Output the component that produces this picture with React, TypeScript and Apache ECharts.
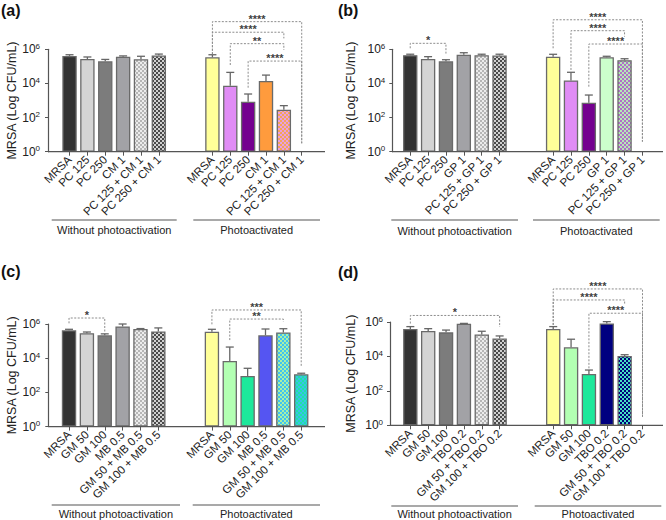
import React, { useEffect, useRef } from 'react';
import * as echarts from 'echarts';

const FONT = 'Arial, "Liberation Sans", Helvetica, sans-serif';

// ---- (a) PC / CM ----  (CFU/mL, mean and SD)
const labelsA = ['MRSA', 'PC 125', 'PC 250', 'CM 1', 'PC 125 + CM 1', 'PC 250 + CM 1'];
const darkA = [4.1e5, 2.7e5, 2.0e5, 3.7e5, 2.6e5, 4.3e5];
const darkSdA = [0.7e5, 0.85e5, 0.55e5, 0.4e5, 1.3e5, 0.95e5];
const lightA = [3.4e5, 7.4e3, 850, 1.38e4, 290, 0];
const lightSdA = [1.4e5, 3.7e4, 1550, 1.7e4, 210, 0];
// brackets: [from slot, to slot, bar height, left leg end, right leg end] in log10 CFU/mL
const bracketsA = [[8, 13, 7.62, 5.71, 0.49], [8, 12, 7.0, 5.71, 6.64], [9, 12, 6.33, 5.08, 5.96], [10, 13, 5.31, 3.75, 0.49]];
const starsA = ['****', '****', '**', '****'];

// ---- (b) PC / GP ----
const labelsB = ['MRSA', 'PC 125', 'PC 250', 'GP 1', 'PC 125 + GP 1', 'PC 250 + GP 1'];
const darkB = [4.5e5, 2.7e5, 2.0e5, 4.8e5, 4.5e5, 4.3e5];
const darkSdB = [0.65e5, 1.0e5, 0.45e5, 1.5e5, 0.65e5, 0.85e5];
const lightB = [3.7e5, 1.5e4, 740, 3.4e5, 2.3e5, 0];
const lightSdB = [1.4e5, 3.0e4, 1350, 0.5e5, 0.5e5, 0];
const bracketsB = [[0, 2, 6.35, 6.06, 5.75], [8, 13, 7.73, 6.06, 0.59], [9, 12, 7.09, 4.79, 6.74], [10, 13, 6.31, 3.81, 0.59]];
const starsB = ['*', '****', '****', '****'];

// ---- (c) GM / MB ----
const labelsC = ['MRSA', 'GM 50', 'GM 100', 'MB 0.5', 'GM 50 + MB 0.5', 'GM 100 + MB 0.5'];
const darkC = [4.3e5, 2.9e5, 2.2e5, 7.2e5, 5.1e5, 3.7e5];
const darkSdC = [0.6e5, 0.5e5, 0.45e5, 2.8e5, 0.3e5, 2.2e5];
const lightC = [3.5e5, 6.9e3, 910, 2.2e5, 3.2e5, 1150];
const lightSdC = [1.4e5, 3.8e4, 1660, 2.9e5, 2.1e5, 170];
const bracketsC = [[0, 2, 6.35, 6.04, 5.55], [8, 13, 6.82, 5.98, 3.54], [9, 12, 6.29, 5.06, 6.13]];
const starsC = ['*', '***', '**'];

// ---- (d) GM / TBO ----
const labelsD = ['MRSA', 'GM 50', 'GM 100', 'TBO 0.2', 'GM 50 + TBO 0.2', 'GM 100 + TBO 0.2'];
const darkD = [3.9e5, 3.0e5, 2.5e5, 7.9e5, 1.9e5, 1.1e5];
const darkSdD = [1.5e5, 1.1e5, 0.9e5, 0.4e5, 1.0e5, 0.45e5];
const lightD = [3.9e5, 3.4e4, 950, 8.3e5, 1.05e4, 0];
const lightSdD = [1.5e5, 6.6e4, 670, 2.2e5, 2.1e3, 0];
const bracketsD = [[0, 5, 6.38, 5.91, 5.71], [8, 13, 7.92, 5.83, 0.49], [8, 12, 7.28, 5.83, 7.05], [10, 13, 6.51, 3.31, 0.49]];
const starsD = ['*', '****', '****', '****'];

const groupNames = ['Without photoactivation', 'Photoactivated'];
const yTitle = 'MRSA (Log CFU/mL)';
const yMaxExp = 6;
const yStepExp = 2;

// fills: plain colour or [colourA, colourB] checkerboard
type Fill = string | [string, string];
const greyFills: Fill[] = ['#333333', '#d4d4d4', '#7c7c7c', '#a2a2a6', ['#ececec', '#b6b6b6'], ['#d0d0d0', '#4a4a4a']];
const lightFillsA: Fill[] = ['#ffff99', '#e08cf5', '#74008f', '#ff9b3d', ['#e8a0e2', '#f4a45a'], '#ffffff'];
const lightFillsB: Fill[] = ['#ffff99', '#e08cf5', '#74008f', '#ccffcc', ['#b6e9b6', '#b070c8'], '#ffffff'];
const lightFillsC: Fill[] = ['#ffff99', '#b3ffb3', '#1de89b', '#5555f2', ['#40c4f0', '#a8f2a8'], ['#1fe0a8', '#38c4e6']];
const lightFillsD: Fill[] = ['#ffff99', '#b3ffb3', '#1de89b', '#000080', ['#00007a', '#46e0c4'], '#ffffff'];

const SLOT = 17.86;
const layouts = [
  { letter: '(a)', lx: 1, ly: 2, axisX: 48, left: 60.6, top: 49.3, height: 102.4, end: 325, nameGap: 26, labelMargin: 8,
    underY: 220, textY: 230, w: [51.7, 176.7], p: [193.3, 320] },
  { letter: '(b)', lx: 338, ly: 2, axisX: 392.3, left: 401.3, top: 49.3, height: 102.4, end: 663, nameGap: 35, labelMargin: 7,
    underY: 220, textY: 230.5, w: [391.3, 518], p: [533, 659.7] },
  { letter: '(c)', lx: 1, ly: 263, axisX: 48.3, left: 60.1, top: 324, height: 102.6, end: 325, nameGap: 28, labelMargin: 8,
    underY: 505, textY: 513.5, w: [51.7, 180], p: [192.7, 320] },
  { letter: '(d)', lx: 338, ly: 264, axisX: 390, left: 401.4, top: 322, height: 103.3, end: 663, nameGap: 33, labelMargin: 7,
    underY: 506, textY: 514, w: [391.3, 518], p: [534.7, 661.3] },
];

const panels = [
  { labels: labelsA, dark: darkA, darkSd: darkSdA, light: lightA, lightSd: lightSdA, fills: lightFillsA, brackets: bracketsA, stars: starsA },
  { labels: labelsB, dark: darkB, darkSd: darkSdB, light: lightB, lightSd: lightSdB, fills: lightFillsB, brackets: bracketsB, stars: starsB },
  { labels: labelsC, dark: darkC, darkSd: darkSdC, light: lightC, lightSd: lightSdC, fills: lightFillsC, brackets: bracketsC, stars: starsC },
  { labels: labelsD, dark: darkD, darkSd: darkSdD, light: lightD, lightSd: lightSdD, fills: lightFillsD, brackets: bracketsD, stars: starsD },
];

function checker(a: string, b: string, cell = 2) {
  const c = document.createElement('canvas');
  c.width = cell * 2;
  c.height = cell * 2;
  const ctx = c.getContext('2d')!;
  ctx.fillStyle = a;
  ctx.fillRect(0, 0, cell * 2, cell * 2);
  ctx.fillStyle = b;
  ctx.fillRect(0, 0, cell, cell);
  ctx.fillRect(cell, cell, cell, cell);
  return { image: c.toDataURL(), repeat: 'repeat', imageWidth: cell * 2, imageHeight: cell * 2 };
}

function toColor(f: Fill): any {
  return typeof f === 'string' ? f : checker(f[0], f[1]);
}

function buildOption() {
  const grid: any[] = [];
  const xAxis: any[] = [];
  const yAxis: any[] = [];
  const series: any[] = [];
  const graphic: any[] = [];

  panels.forEach((pn, i) => {
    const L = layouts[i];
    const slotLabels = [...pn.labels, '', '', ...pn.labels];
    const slotKeys = slotLabels.map((_, k) => String(k));
    const means = [...pn.dark, null, null, ...pn.light];
    const sds = [...pn.darkSd, null, null, ...pn.lightSd];
    const fills: (Fill | null)[] = [...greyFills, null, null, ...pn.fills];

    grid.push({ left: L.left, top: L.top, width: SLOT * 14, height: L.height, containLabel: false, outerBoundsMode: 'none' });

    xAxis.push({
      type: 'category', gridIndex: i, data: slotKeys, boundaryGap: true,
      axisLine: { show: false },
      axisTick: {
        show: true, alignWithLabel: true, length: 4,
        interval: (idx: number) => slotLabels[idx] !== '',
        lineStyle: { color: '#555', width: 1 },
      },
      axisLabel: {
        interval: 0, rotate: 45, margin: 6, fontSize: 11.5, color: '#222', fontFamily: FONT,
        formatter: (_v: string, idx: number) => slotLabels[idx],
      },
      splitLine: { show: false },
    });

    // log10 CFU/mL on a linear axis, labelled as powers of ten
    yAxis.push({
      type: 'value', gridIndex: i, min: 0, max: yMaxExp, interval: yStepExp,
      offset: L.left - L.axisX,
      name: yTitle, nameLocation: 'middle', nameGap: L.nameGap,
      nameTextStyle: { fontSize: 12.5, color: '#222', fontFamily: FONT },
      axisLine: { show: true, lineStyle: { color: '#555', width: 1.2 } },
      axisTick: { show: true, length: 3, lineStyle: { color: '#555', width: 1 } },
      minorTick: { show: false },
      splitLine: { show: false },
      axisLabel: {
        margin: L.labelMargin,
        formatter: (v: number) => `{b|10}{s|${v}}`,
        rich: {
          b: { fontSize: 12, fontFamily: FONT, color: '#222', lineHeight: 14 },
          s: { fontSize: 8, fontFamily: FONT, color: '#222', lineHeight: 6, verticalAlign: 'top' },
        },
      },
    });

    series.push({
      type: 'bar', xAxisIndex: i, yAxisIndex: i, barWidth: 14.4, z: 2,
      data: means.map((m, k) =>
        m == null || m <= 0
          ? '-'
          : { value: Math.log10(m), itemStyle: { color: toColor(fills[k] as Fill), borderColor: '#6a6a6a', borderWidth: 1.3 } }
      ),
    });

    const errData: number[][] = [];
    means.forEach((m, k) => {
      if (m != null && m > 0 && sds[k] != null) errData.push([k, Math.log10(m), Math.log10(m + (sds[k] as number))]);
    });
    series.push({
      type: 'custom', xAxisIndex: i, yAxisIndex: i, z: 3, clip: false,
      itemStyle: { color: '#666' },
      encode: { x: 0, y: 2 },
      data: errData,
      renderItem: (_p: any, api: any) => {
        const x = api.value(0);
        const a = api.coord([x, api.value(1)]);
        const b = api.coord([x, api.value(2)]);
        const style = { stroke: '#666', lineWidth: 1.3 };
        return {
          type: 'group',
          children: [
            { type: 'line', shape: { x1: a[0], y1: a[1], x2: b[0], y2: b[1] }, style },
            { type: 'line', shape: { x1: b[0] - 4, y1: b[1], x2: b[0] + 4, y2: b[1] }, style },
          ],
        };
      },
    });

    series.push({
      type: 'custom', xAxisIndex: i, yAxisIndex: i, z: 4, clip: false,
      itemStyle: { color: '#333' },
      encode: { x: 0, y: 2 },
      data: pn.brackets,
      renderItem: (p: any, api: any) => {
        const f = api.value(0);
        const t = api.value(1);
        const tl = api.coord([f, api.value(2)]);
        const tr = api.coord([t, api.value(2)]);
        const le = api.coord([f, api.value(3)]);
        const re = api.coord([t, api.value(4)]);
        return {
          type: 'group',
          children: [
            {
              type: 'polyline',
              shape: { points: [le, tl, tr, re] },
              style: { stroke: '#8c8c8c', lineWidth: 1, lineDash: [2, 1.5], fill: null },
            },
            {
              type: 'text',
              x: (tl[0] + tr[0]) / 2, y: tl[1] - 3,
              style: {
                text: pn.stars[p.dataIndex], align: 'center', verticalAlign: 'middle',
                fontSize: 11, fontWeight: 'bold', lineHeight: 8, fontFamily: FONT, fill: '#3a3a3a', opacity: 0.99,
              },
            },
          ],
        };
      },
    });

    const baseY = L.top + L.height;
    graphic.push(
      { type: 'line', z: 10, shape: { x1: L.axisX, y1: baseY, x2: L.end, y2: baseY }, style: { stroke: '#555', lineWidth: 1.2 } },
      { type: 'text', x: L.lx, y: L.ly, style: { text: L.letter, font: `bold 16px ${FONT}`, fill: '#111', verticalAlign: 'top' } },
      { type: 'line', shape: { x1: L.w[0], y1: L.underY, x2: L.w[1], y2: L.underY }, style: { stroke: '#555', lineWidth: 1.2 } },
      { type: 'line', shape: { x1: L.p[0], y1: L.underY, x2: L.p[1], y2: L.underY }, style: { stroke: '#555', lineWidth: 1.2 } },
      { type: 'text', x: (L.w[0] + L.w[1]) / 2, y: L.textY, style: { text: groupNames[0], align: 'center', verticalAlign: 'middle', fontSize: 11, fontFamily: FONT, fill: '#222' } },
      { type: 'text', x: (L.p[0] + L.p[1]) / 2, y: L.textY, style: { text: groupNames[1], align: 'center', verticalAlign: 'middle', fontSize: 11, fontFamily: FONT, fill: '#222' } },
    );
  });

  return {
    animation: false,
    backgroundColor: '#ffffff',
    grid, xAxis, yAxis, series, graphic,
  };
}

export default function App() {
  const ref = useRef<HTMLDivElement>(null);
  useEffect(() => {
    if (!ref.current) return;
    const chart = echarts.init(ref.current, null, { renderer: 'svg' });
    chart.setOption(buildOption() as any);
    return () => chart.dispose();
  }, []);
  return <div ref={ref} style={{ position: 'absolute', left: 0, top: 0, width: 666, height: 520 }} />;
}
